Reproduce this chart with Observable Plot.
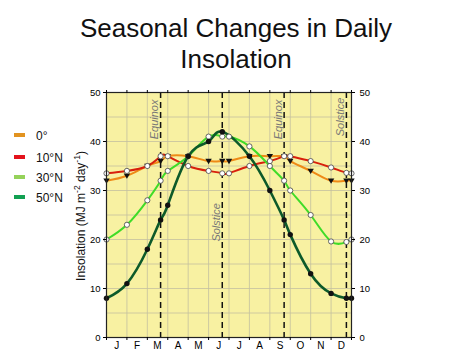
<!DOCTYPE html>
<html><head><meta charset="utf-8">
<script src="https://cdn.jsdelivr.net/npm/d3@7"></script>
<script src="https://cdn.jsdelivr.net/npm/@observablehq/plot@0.6"></script>
<style>body{margin:0;background:#fff;} #chart svg{display:block;}</style>
</head><body><div id="chart"></div>
<script>
// ---- data ----
const months = ["J","F","M","A","M","J","J","A","S","O","N","D"];
// positions in months from Jan 1 (month starts, equinoxes/solstices, Dec 31)
const dayPos = [0,1,2,2.65,3,4,5,5.67,6,7,8,8.7,9,10,11,11.75,12];
const lat0  = [32,33,35,36,37,37,36,36,36,37,37,37,36,34,32,32,32];
const lat10 = [33.5,34,35,37,37,35,34,33.5,33.5,35,36,37,37,36,34.7,33.6,33.5];
const lat30 = [20,23,28,32,34,37,41,41,41,39,35,32,30,25,19.6,19.5,20];
const lat50 = [8,11,18,24,27,37,40,42,null,37,30,24,21,13,9,8,8];
const seriesNames = ["0°","10°N","30°N","50°N"];
const lineColors = ["#ee8a16","#d8200c","#3fdc28","#0d5a2a"];
const legendColors = ["#e29320","#e3131c","#95d25a","#12a052"];
const eventPos = [2.65,5.67,8.7,11.75];
const eventNames = ["Equinox","Solstice","Equinox","Solstice"];
const eventLabelY = [44.5,23.5,44.5,45];
const yTicks = [0,10,20,30,40,50];
const titleLines = ["Seasonal Changes in Daily","Insolation"];
const yLabelParts = ["Insolation (MJ m","-2"," day","-1",")"];

// ---- build tables ----
const allSeries = [lat0, lat10, lat30, lat50];
const tables = allSeries.map(vals =>
  vals.map((v, i) => ({x: dayPos[i], y: v})).filter(d => d.y != null));
const events = eventPos.map((x, i) => ({x, name: eventNames[i], ly: eventLabelY[i]}));
const monthCenters = months.map((m, i) => i + 0.5);

const triDown = {
  draw(context, size) {
    const r = Math.sqrt(size / Math.PI);
    context.moveTo(-r, -r * 0.7);
    context.lineTo(r, -r * 0.7);
    context.lineTo(0, r * 0.95);
    context.closePath();
  }
};

const FONT = "'Liberation Sans', Arial, Helvetica, sans-serif";
const widths = [2, 2, 2, 2.6];

const plot = Plot.plot({
  width: 474, height: 355,
  marginLeft: 106, marginRight: 123, marginTop: 92, marginBottom: 18,
  style: {fontFamily: FONT, fontSize: "9.5px", background: "white", overflow: "visible"},
  x: {domain: [0, 12]},
  y: {domain: [0, 50]},
  marks: [
    Plot.frame({fill: "#f8f1a2", stroke: null}),
    Plot.ruleY(d3.range(5, 50, 5), {stroke: "#c4c0a0", strokeWidth: 0.8}),
    Plot.ruleX(d3.range(1, 12), {stroke: "#c4c0a0", strokeWidth: 0.8}),
    Plot.ruleX(events, {x: "x", stroke: "#111", strokeWidth: 1.5, strokeDasharray: "6,4"}),
    Plot.text(events, {x: "x", y: "ly", text: "name", rotate: -90, dx: -6, fill: "#777",
      fontSize: 11, fontStyle: "italic"}),
    ...tables.map((t, k) => Plot.line(t, {x: "x", y: "y", curve: "natural",
      stroke: lineColors[k], strokeWidth: widths[k]})),
    Plot.dot(tables[0], {x: "x", y: "y", symbol: triDown, r: 3.2, fill: "#111", stroke: null}),
    Plot.dot(tables[1], {x: "x", y: "y", r: 2.6, fill: "white", stroke: "#444", strokeWidth: 0.8}),
    Plot.dot(tables[2], {x: "x", y: "y", r: 2.6, fill: "white", stroke: "#444", strokeWidth: 0.8}),
    Plot.dot(tables[3], {x: "x", y: "y", r: 2.7, fill: "#111", stroke: null}),
    Plot.frame({stroke: "#222", strokeWidth: 1.2}),
    Plot.axisY(yTicks, {anchor: "left", tickSize: 3, tickPadding: 3, label: null}),
    Plot.axisY(yTicks, {anchor: "right", tickSize: 3, tickPadding: 5, label: null}),
    Plot.axisX(d3.range(0, 13), {anchor: "bottom", tickSize: 3, tickFormat: () => "", label: null}),
    Plot.axisX(d3.range(0, 13), {anchor: "top", tickSize: 3, tickFormat: () => "", label: null}),
    Plot.axisX(monthCenters, {anchor: "bottom", tickSize: 0, tickPadding: 4, fontSize: 10,
      tickFormat: d => months[Math.floor(d)], label: null})
  ]
});
document.getElementById("chart").appendChild(plot);

// ---- title, y label, legend ----
const svg = d3.select(plot);
titleLines.forEach((t, i) => {
  svg.append("text").attr("x", 236).attr("y", 37 + i * 31)
    .attr("text-anchor", "middle").attr("font-size", 26).attr("font-family", FONT)
    .attr("fill", "#111").text(t);
});
const yl = svg.append("text").attr("transform", "translate(85,216) rotate(-90)")
  .attr("text-anchor", "middle").attr("font-size", 12).attr("font-family", FONT).attr("fill", "#111");
yLabelParts.forEach((p, i) => {
  const sup = i % 2 === 1;
  yl.append("tspan").attr("font-size", sup ? 8.5 : 12)
    .attr("dy", i === 0 ? 0 : (sup ? -5 : 5)).text(p);
});
const legendY = [135, 157, 177, 197];
seriesNames.forEach((n, i) => {
  svg.append("rect").attr("x", 14).attr("y", legendY[i] - 2).attr("width", 11).attr("height", 4)
    .attr("fill", legendColors[i]);
  svg.append("text").attr("x", 36).attr("y", legendY[i] + 4.5).attr("font-size", 12)
    .attr("text-anchor", "start")
    .attr("font-family", FONT).attr("fill", "#111").text(n);
});
</script>
</body></html>
